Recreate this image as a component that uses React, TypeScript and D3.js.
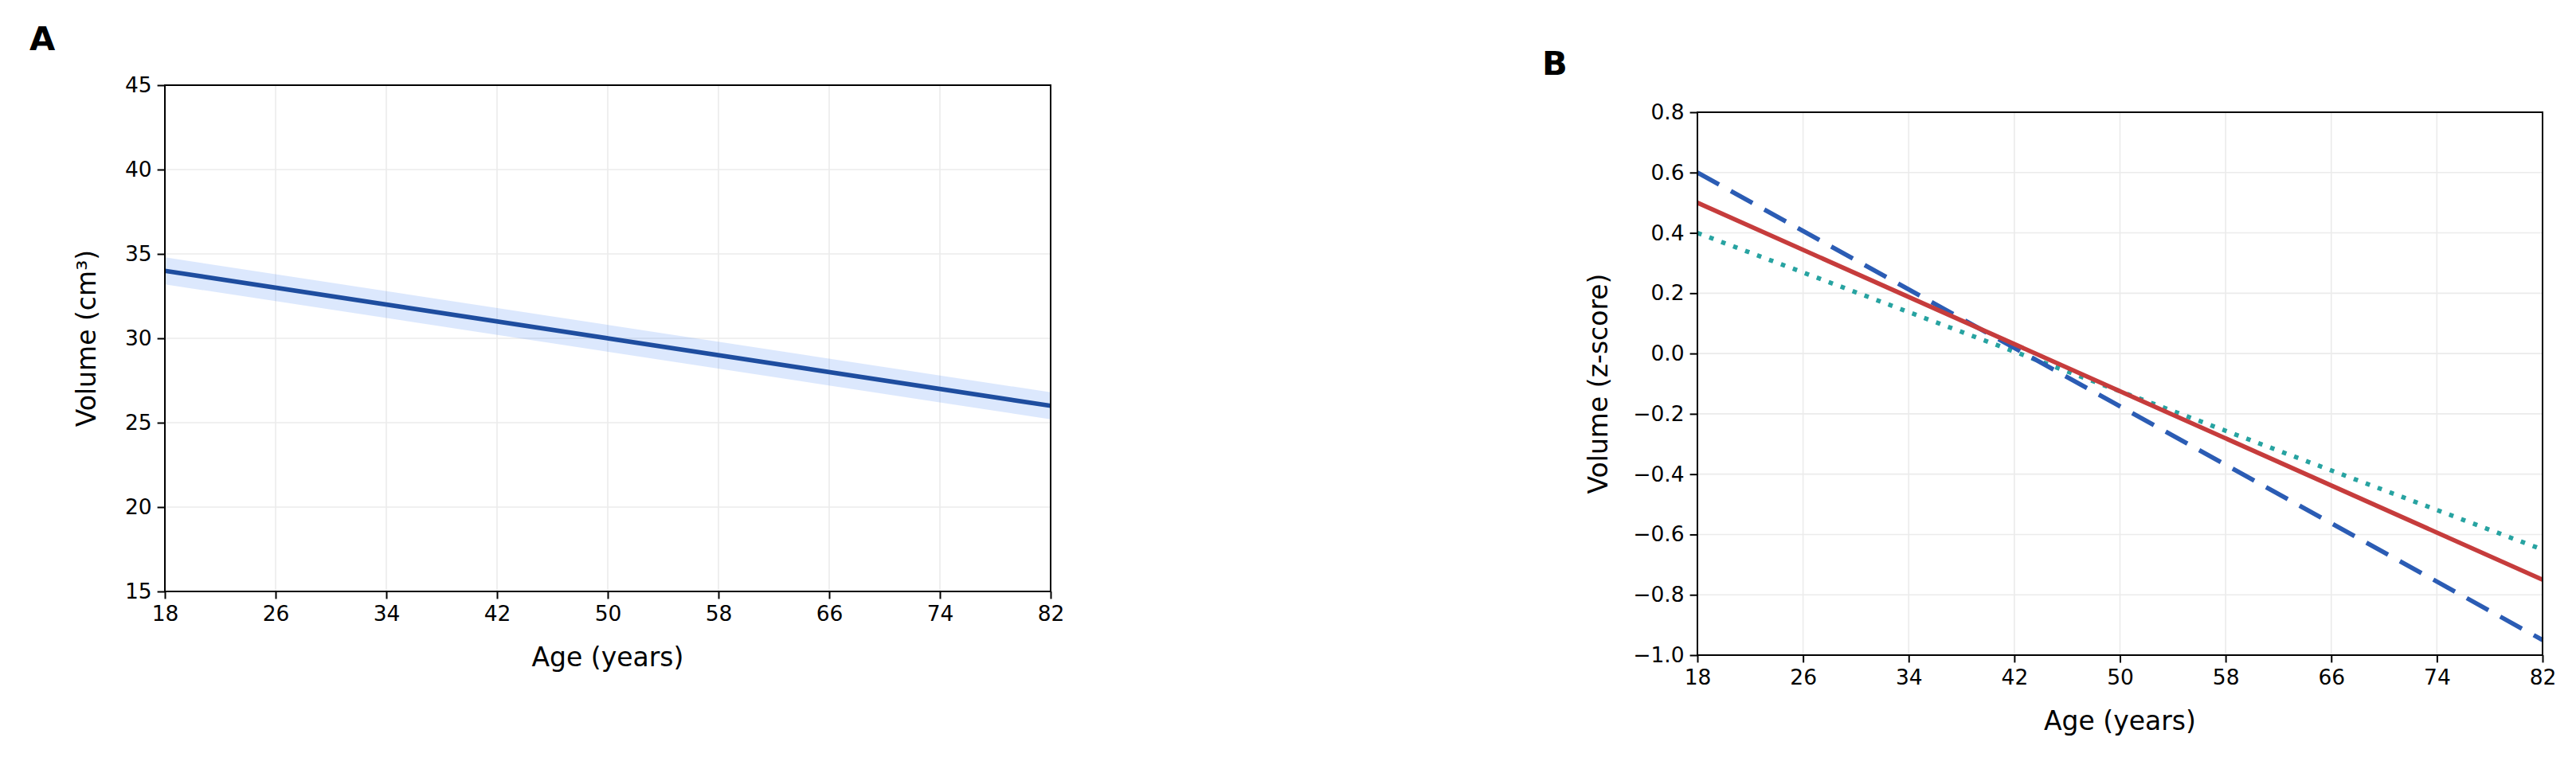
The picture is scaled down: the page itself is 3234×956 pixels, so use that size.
import React, { useRef, useEffect } from 'react';
import * as d3 from 'd3';

// Panel A: fitted volume and its confidence band
const agesA = [18, 82];
const volumeFit = [34, 26];
const volumeLow = [33.2, 25.2];
const volumeHigh = [34.8, 26.8];

// Panel B: standardised trajectories
const agesB = [18, 82];
const zSolid = [0.5, -0.75];
const zDashed = [0.6, -0.95];
const zDotted = [0.4, -0.65];

const ageTicks = [18, 26, 34, 42, 50, 58, 66, 74, 82];
const volumeTicks = [15, 20, 25, 30, 35, 40, 45];
const zTicks = [-1.0, -0.8, -0.6, -0.4, -0.2, 0.0, 0.2, 0.4, 0.6, 0.8];

const FONT = '"DejaVu Sans", sans-serif';

const App = () => {
    const svgRef = useRef<SVGSVGElement>(null);

    useEffect(() => {
        if (!svgRef.current) return;
        const width = 3234;
        const height = 956;
        const svg = d3.select(svgRef.current)
            .attr('width', width)
            .attr('height', height)
            .attr('viewBox', `0 0 ${width} ${height}`);
        svg.selectAll('*').remove();
        svg.append('rect').attr('width', width).attr('height', height).attr('fill', 'white');

        const drawFrame = (
            box: { left: number; right: number; top: number; bottom: number },
            x: d3.ScaleLinear<number, number>,
            y: d3.ScaleLinear<number, number>,
            yTicks: number[],
            yFormat: (v: number) => string,
            yLabel: string,
            yLabelX: number,
            panel: string,
            panelPos: [number, number]
        ) => {
            const g = svg.append('g');
            // grid
            g.selectAll('.gx').data(ageTicks).join('line')
                .attr('x1', d => x(d)).attr('x2', d => x(d))
                .attr('y1', box.top).attr('y2', box.bottom)
                .attr('stroke', '#ebebeb').attr('stroke-width', 1.6);
            g.selectAll('.gy').data(yTicks).join('line')
                .attr('x1', box.left).attr('x2', box.right)
                .attr('y1', d => y(d)).attr('y2', d => y(d))
                .attr('stroke', '#ebebeb').attr('stroke-width', 1.6);

            // axes
            const xAxis = g.append('g')
                .attr('transform', `translate(0,${box.bottom})`)
                .call(d3.axisBottom(x).tickValues(ageTicks).tickFormat(d3.format('d')).tickSizeOuter(0).tickSize(9.4).tickPadding(7));
            const yAxis = g.append('g')
                .attr('transform', `translate(${box.left},0)`)
                .call(d3.axisLeft(y).tickValues(yTicks).tickFormat(yFormat as any).tickSizeOuter(0).tickSize(9.4).tickPadding(7));
            [xAxis, yAxis].forEach(a => {
                a.select('.domain').remove();
                a.selectAll('line').attr('stroke', '#000').attr('stroke-width', 2);
                a.selectAll('text').attr('font-family', FONT).attr('font-size', 26.5).attr('fill', '#000');
            });
            xAxis.selectAll('text').attr('dy', '0.76em');

            g.append('text')
                .attr('x', (box.left + box.right) / 2)
                .attr('y', box.bottom + 94)
                .attr('text-anchor', 'middle')
                .attr('font-family', FONT).attr('font-size', 33)
                .text('Age (years)');
            g.append('text')
                .attr('transform', `translate(${yLabelX},${(box.top + box.bottom) / 2}) rotate(-90)`)
                .attr('text-anchor', 'middle')
                .attr('dominant-baseline', 'central')
                .attr('font-family', FONT).attr('font-size', 33)
                .text(yLabel);
            g.append('text')
                .attr('x', panelPos[0]).attr('y', panelPos[1])
                .attr('font-family', FONT).attr('font-size', 41.7).attr('font-weight', 'bold')
                .text(panel);
            return g;
        };

        const spine = (box: { left: number; right: number; top: number; bottom: number }) => {
            svg.append('rect')
                .attr('x', box.left).attr('y', box.top)
                .attr('width', box.right - box.left).attr('height', box.bottom - box.top)
                .attr('fill', 'none').attr('stroke', '#000').attr('stroke-width', 2);
        };

        // ---------- Panel A ----------
        const boxA = { left: 207, right: 1319, top: 107, bottom: 743 };
        const xA = d3.scaleLinear().domain([18, 82]).range([boxA.left, boxA.right]);
        const yA = d3.scaleLinear().domain([15, 45]).range([boxA.bottom, boxA.top]);
        drawFrame(boxA, xA, yA, volumeTicks, d3.format('d'), 'Volume (cm³)', 108, 'A', [37, 63]);

        const bandData = agesA.map((a, i) => ({ a, lo: volumeLow[i], hi: volumeHigh[i] }));
        svg.append('path')
            .datum(bandData)
            .attr('fill', '#3b82f6').attr('fill-opacity', 0.18)
            .attr('d', d3.area<any>().x(d => xA(d.a)).y0(d => yA(d.lo)).y1(d => yA(d.hi)));
        svg.append('path')
            .datum(agesA.map((a, i) => ({ a, v: volumeFit[i] })))
            .attr('fill', 'none').attr('stroke', '#1e4d9f').attr('stroke-width', 5.6)
            .attr('d', d3.line<any>().x(d => xA(d.a)).y(d => yA(d.v)));
        spine(boxA);

        // ---------- Panel B ----------
        const boxB = { left: 2131, right: 3192, top: 141, bottom: 823 };
        const xB = d3.scaleLinear().domain([18, 82]).range([boxB.left, boxB.right]);
        const yB = d3.scaleLinear().domain([-1.0, 0.8]).range([boxB.bottom, boxB.top]);
        const zFmt = (v: number) => d3.format('.1f')(v).replace('-', '\u2212');
        drawFrame(boxB, xB, yB, zTicks, zFmt, 'Volume (z-score)', 2006, 'B', [1936, 94]);

        const lineB = d3.line<any>().x(d => xB(d.a)).y(d => yB(d.v));
        const series = [
            { vals: zDotted, color: '#27a3a1', dash: '5.6 10.4' },
            { vals: zDashed, color: '#2b5cb4', dash: '31 17' },
            { vals: zSolid, color: '#c63c3c', dash: null },
        ];
        series.forEach(s => {
            svg.append('path')
                .datum(agesB.map((a, i) => ({ a, v: s.vals[i] })))
                .attr('fill', 'none').attr('stroke', s.color).attr('stroke-width', 5.6)
                .attr('stroke-dasharray', s.dash)
                .attr('d', lineB);
        });
        spine(boxB);
    }, []);

    return <svg ref={svgRef} style={{ position: 'absolute', left: 0, top: 0, display: 'block' }} />;
};

export default App;
